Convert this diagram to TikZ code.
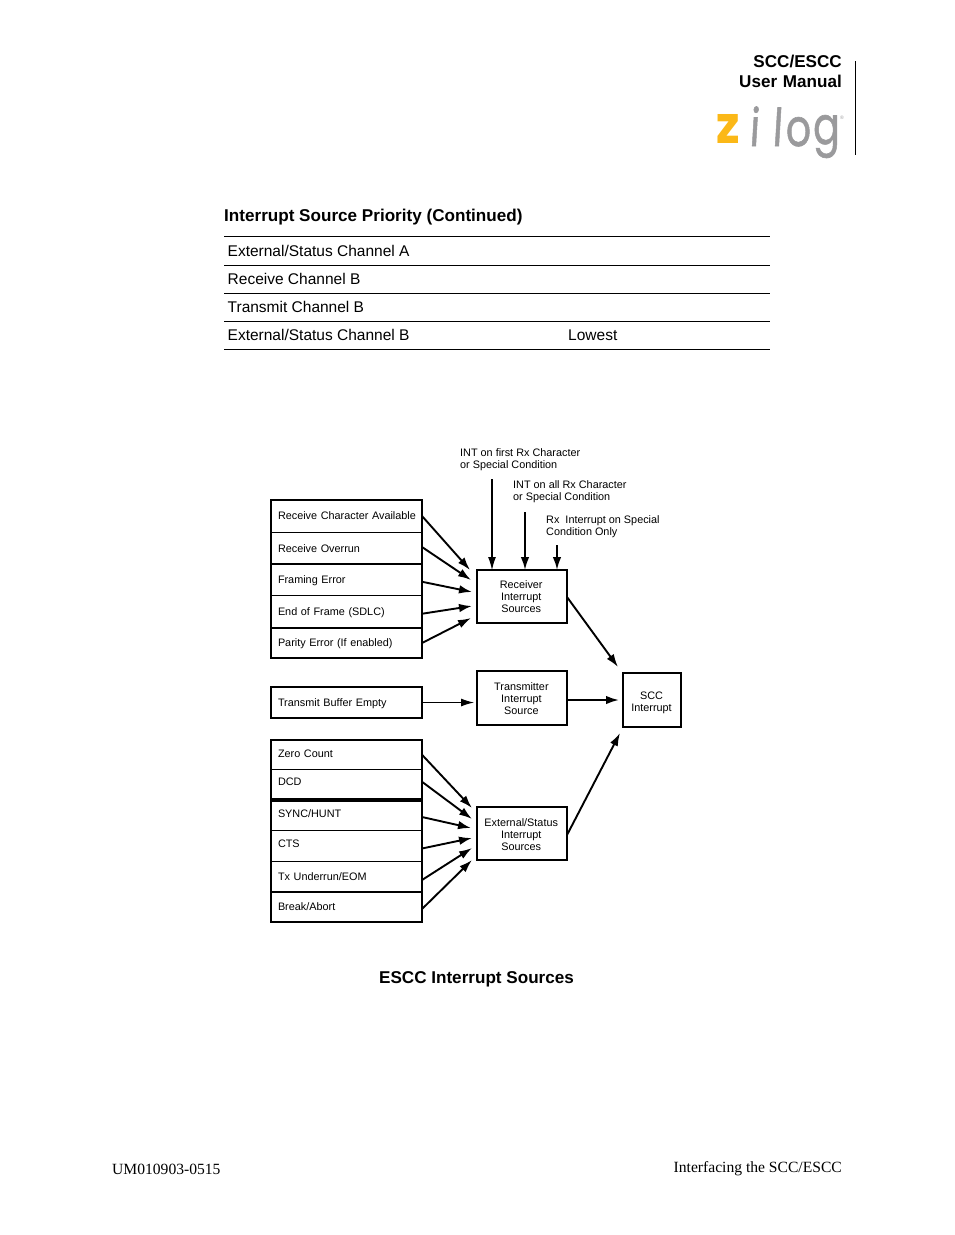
\documentclass[tikz,border=0pt]{standalone}
\usepackage{fontspec}
\setmainfont{Liberation Sans}
\newfontfamily\serifnew{Liberation Serif}
\newfontfamily\logofont[FakeBold=1.2]{Poppins}
\newfontfamily\logobold[BoldFont={Poppins Bold}]{Poppins}
\usetikzlibrary{arrows.meta}
\definecolor{zyellow}{HTML}{FBB817}
\definecolor{zgrey}{HTML}{9A9A9C}
\newcommand{\smallf}{\fontsize{10.85}{12.3}\selectfont}
\newcommand{\rs}[2]{\raisebox{\dimexpr #1pt-3.9pt\relax}[0pt][0pt]{#2}}
\tikzset{
  x=1pt,y=-1pt,
  rowbox/.style={anchor=north west,minimum width=151pt,text width=137pt,inner xsep=7pt,inner ysep=0pt,outer sep=0pt,align=left,font=\smallf},
  srcbox/.style={draw=black,line width=1.6pt,anchor=north west,inner sep=0pt,outer sep=0pt},
  srctext/.style={inner sep=0pt,align=center,font=\fontsize{10.85}{11.9}\selectfont},
  outer/.style={line width=1.8pt},
  thindiv/.style={line width=1pt},
  meddiv/.style={line width=1.7pt},
  thickdiv/.style={line width=3.2pt},
  arr/.style={line width=1.9pt,-{Latex[length=13pt,width=8.5pt]}},
  thinarr/.style={line width=1.1pt,-{Latex[length=13pt,width=8pt]}},
  lbl/.style={anchor=north west,inner sep=0pt,align=left,font=\smallf},
  tabtext/.style={anchor=west,inner sep=0pt,font=\fontsize{15.5}{18}\selectfont},
  tabline/.style={line width=0.7pt},
  boldtext/.style={inner sep=0pt,font=\fontsize{17.1}{20}\bfseries\selectfont},
  foot/.style={inner sep=0pt,font=\fontsize{15.6}{18}\serifnew\selectfont},
  logoletter/.style={anchor=base,inner sep=0pt,text=zgrey,xscale=0.76,font=\fontsize{52}{52}\logofont\selectfont},
}
\begin{document}
\begin{tikzpicture}
\useasboundingbox (0,0) rectangle (954,1235);
% header
\node[boldtext,anchor=north east,align=right,text width=150pt] (head) at (842,54.5) {SCC/ESCC\\User Manual};
\coordinate (ruleA) at (855.5,61);
\coordinate (ruleB) at (855.5,155);
\draw[line width=1pt] (ruleA) -- (ruleB);
\node[logoletter,text=zyellow,xscale=1.2/0.76*0.76,font=\fontsize{52}{52}\bfseries\logobold\selectfont] (lz) at (728,143) {z};
\node[logoletter,xslant=0.08] (li) at (754,146) {i};
\node[logoletter,xslant=0.08] (ll) at (777,146) {l};
\node[logoletter] (lo) at (798.5,146) {o};
\node[logoletter] (lg) at (826.5,144) {g};
\node[inner sep=0pt,text=zgrey,font=\fontsize{5}{5}\selectfont] (lr) at (842,118) {®};
% table
\node[boldtext,anchor=west] (ttl) at (224,217.5) {Interrupt Source Priority (Continued)};
\foreach \n/\y in {a/236.5,b/265,c/293,d/321,e/349.5}{\coordinate (tl\n) at (224,\y);\coordinate (tr\n) at (770,\y);\draw[tabline] (tl\n) -- (tr\n);}
\node[tabtext] (t1) at (227.5,251) {External/Status Channel A};
\node[tabtext] (t2) at (227.5,279) {Receive Channel B};
\node[tabtext] (t3) at (227.5,307) {Transmit Channel B};
\node[tabtext] (t4) at (227.5,335) {External/Status Channel B};
\node[tabtext] (t5) at (568,335) {Lowest};
% receive rows
\node[rowbox,minimum height=32pt] (r1) at (271,500) {\rs{0.5}{Receive Character Available}};
\node[rowbox,minimum height=32pt] (r2) at (271,532) {\rs{-0.5}{Receive Overrun}};
\node[rowbox,minimum height=31.5pt] (r3) at (271,564) {\rs{0}{Framing Error}};
\node[rowbox,minimum height=32.5pt] (r4) at (271,595.5) {\rs{0.5}{End of Frame (SDLC)}};
\node[rowbox,minimum height=30pt] (r5) at (271,628) {\rs{0}{Parity Error (If enabled)}};
\draw[outer] (r1.north west) rectangle (r5.south east);
\draw[thindiv] (r1.south west) -- (r1.south east);
\draw[meddiv] (r2.south west) -- (r2.south east);
\draw[meddiv] (r3.south west) -- (r3.south east);
\draw[meddiv] (r4.south west) -- (r4.south east);
% transmit row
\node[rowbox,minimum height=31pt] (tb) at (271,687) {\rs{-0.5}{Transmit Buffer Empty}};
\draw[outer] (tb.north west) rectangle (tb.south east);
% external rows
\node[rowbox,minimum height=29.5pt] (e1) at (271,740) {\rs{0.9}{Zero Count}};
\node[rowbox,minimum height=30.5pt] (e2) at (271,769.5) {\rs{2.9}{DCD}};
\node[rowbox,minimum height=30pt] (e3) at (271,800) {\rs{1.2}{SYNC/HUNT}};
\node[rowbox,minimum height=31pt] (e4) at (271,830) {\rs{1.7}{CTS}};
\node[rowbox,minimum height=31pt] (e5) at (271,861) {\rs{-0.3}{Tx Underrun/EOM}};
\node[rowbox,minimum height=30pt] (e6) at (271,892) {\rs{0.2}{Break/Abort}};
\draw[outer] (e1.north west) rectangle (e6.south east);
\draw[thindiv] (e1.south west) -- (e1.south east);
\draw[thickdiv] (e2.south west) -- (e2.south east);
\draw[thindiv] (e3.south west) -- (e3.south east);
\draw[thindiv] (e4.south west) -- (e4.south east);
\draw[meddiv] (e5.south west) -- (e5.south east);
% source boxes
\node[srcbox,minimum width=90pt,minimum height=53pt,label={[srctext,xshift=-0.8pt,yshift=0pt]center:Receiver\\Interrupt\\Sources}] (rx) at (477,570) {};
\node[srcbox,minimum width=90pt,minimum height=54pt,label={[srctext,xshift=-0.6pt,yshift=-0.5pt]center:Transmitter\\Interrupt\\Source}] (tx) at (477,671) {};
\node[srcbox,minimum width=90pt,minimum height=53pt,label={[srctext,xshift=-0.8pt,yshift=-1pt]center:External/Status\\Interrupt\\Sources}] (ex) at (477,807) {};
\node[srcbox,minimum width=58pt,minimum height=54pt,line width=1.2pt,label={[srctext,xshift=-0.5pt,yshift=-2.5pt]center:SCC\\Interrupt}] (scc) at (623,673) {};
% labels
\node[lbl] (l1) at (460,448) {INT on first Rx Character\\or Special Condition};
\node[lbl] (l2) at (513,480) {INT on all Rx Character\\or Special Condition};
\node[lbl] (l3) at (546,515) {Rx~~Interrupt on Special\\Condition Only};
% free ends
\coordinate (v1) at (492,479);
\coordinate (v2) at (525,512);
\coordinate (v3) at (557,545);
\coordinate (a1) at (470,570);
\coordinate (a2) at (471,580);
\coordinate (a3) at (472,592);
\coordinate (a4) at (472,606);
\coordinate (a5) at (471,618);
\coordinate (a6) at (474,702.5);
\coordinate (b1) at (472,808);
\coordinate (b2) at (472,819);
\coordinate (b3) at (471,828);
\coordinate (b4) at (472,838);
\coordinate (b5) at (472,848);
\coordinate (b6) at (472,860);
\coordinate (s1) at (618,667);
\coordinate (s2) at (619,700);
\coordinate (s3) at (620,733);
% arrows
\draw[thinarr] (v1) -- (v1 |- rx.north);
\draw[arr] (v2) -- (v2 |- rx.north);
\draw[arr] (v3) -- (v3 |- rx.north);
\draw[arr] (r1.east) -- (a1);
\draw[arr] ([yshift=1pt]r2.east) -- (a2);
\draw[arr] ([yshift=-2pt]r3.east) -- (a3);
\draw[arr] ([yshift=-2pt]r4.east) -- (a4);
\draw[arr] (r5.east) -- (a5);
\draw[thinarr] (tb.east) -- (a6);
\draw[arr] (e1.east) -- (b1);
\draw[arr] ([yshift=3pt]e2.east) -- (b2);
\draw[arr] ([yshift=-2pt]e3.east) -- (b3);
\draw[arr] ([yshift=-3pt]e4.east) -- (b4);
\draw[arr] ([yshift=-3.5pt]e5.east) -- (b5);
\draw[arr] ([yshift=-2pt]e6.east) -- (b6);
\draw[arr] ([yshift=-0.5pt]rx.east) -- (s1);
\draw[arr] (tx.east |- s2) -- (s2);
\draw[arr] ([yshift=-1.5pt]ex.east) -- (s3);
% caption and footer
\node[boldtext] (cap) at (476.5,979.5) {ESCC Interrupt Sources};
\node[foot,anchor=west] (fl) at (112,1169) {UM010903-0515};
\node[foot,anchor=east] (fr) at (842,1169) {Interfacing the SCC/ESCC};
\end{tikzpicture}
\end{document}
